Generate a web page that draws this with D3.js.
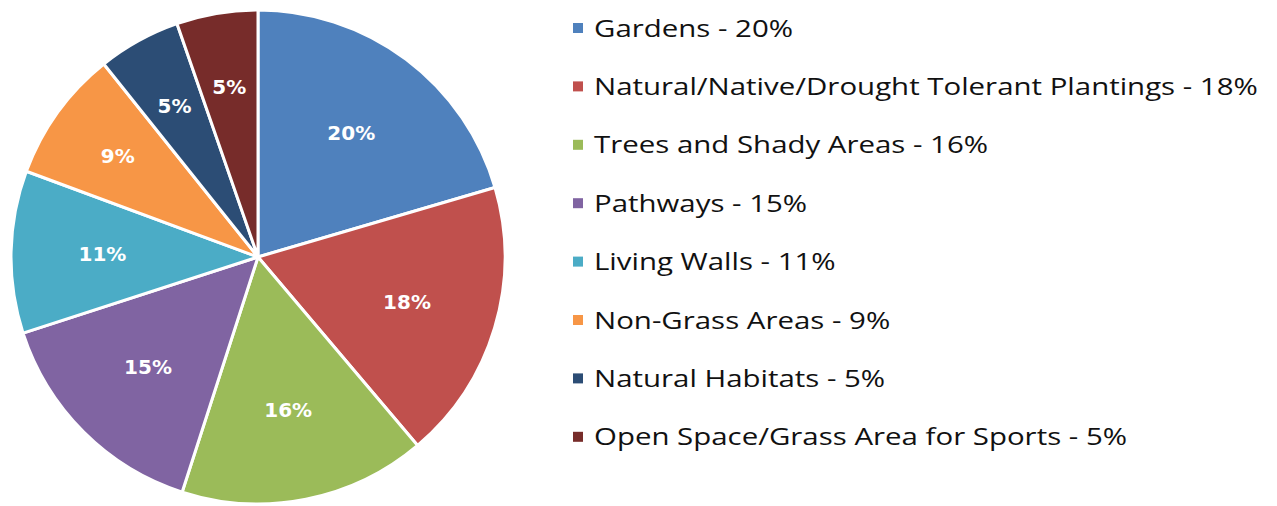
<!DOCTYPE html>
<html lang="en">
<head>
    <meta charset="UTF-8">
    <title>Pie Chart</title>
    <script src="https://d3js.org/d3.v7.min.js"></script>
    <style>
        body {
            margin: 0;
            background: #fff;
        }
        .legend text {
            font-family: "Open Sans", Lato, sans-serif;
            font-size: 24px;
            fill: #111;
        }
        .label {
            font-family: "DejaVu Sans", sans-serif;
            font-weight: bold;
            font-size: 20px;
            fill: white;
            text-anchor: middle;
        }
    </style>
</head>
<body>
    <script>
        const categories = ["Gardens", "Natural/Native/Drought Tolerant Plantings", "Trees and Shady Areas",
            "Pathways", "Living Walls", "Non-Grass Areas", "Natural Habitats", "Open Space/Grass Area for Sports"];
        const values = [20.4, 18.3, 16.1, 15.0, 10.6, 8.6, 5.4, 5.3];
        const colors = ["#4F81BD", "#C0504D", "#9BBB59", "#8064A2", "#4BACC6", "#F79646", "#2C4D75", "#772C2A"];

        const width = 1277, height = 506;
        const cx = 258, cy = 257, radius = 247;

        const svg = d3.select("body")
            .append("svg")
            .attr("width", width)
            .attr("height", height);

        const pie = d3.pie().sort(null).value(d => d);
        const arcs = pie(values);
        const arc = d3.arc().innerRadius(0).outerRadius(radius);
        const fmt = v => Math.round(v) + "%";

        const g = svg.append("g").attr("transform", `translate(${cx},${cy})`);

        g.selectAll("path")
            .data(arcs)
            .enter()
            .append("path")
            .attr("d", arc)
            .attr("fill", (d, i) => colors[i])
            .attr("stroke", "white")
            .attr("stroke-width", 3)
            .attr("stroke-linejoin", "round");

        // labels - small slices sit further out
        g.selectAll(".label")
            .data(arcs)
            .enter()
            .append("text")
            .attr("class", "label")
            .attr("transform", d => {
                const r = d.data < 10 ? radius * 0.7 : radius * 0.63;
                const a = (d.startAngle + d.endAngle) / 2;
                return `translate(${Math.sin(a) * r},${-Math.cos(a) * r})`;
            })
            .attr("dy", "0.36em")
            .text(d => fmt(d.data));

        // legend
        const legend = svg.append("g")
            .attr("class", "legend")
            .attr("transform", "translate(573,28)");

        const rows = legend.selectAll("g")
            .data(categories)
            .enter()
            .append("g")
            .attr("transform", (d, i) => `translate(0, ${i * 58.4})`);

        rows.append("rect")
            .attr("x", 0)
            .attr("y", -5)
            .attr("width", 10)
            .attr("height", 10)
            .attr("fill", (d, i) => colors[i]);

        const texts = rows.append("text")
            .attr("dy", "0.36em")
            .text((d, i) => d + " - " + fmt(values[i]));

        // the original face is wider, so stretch the glyphs to the same line width
        const w = texts.nodes()[1].getComputedTextLength();
        const sx = 664 / w;
        texts.attr("transform", `translate(21,0) scale(${sx},1)`);
    </script>
</body>
</html>
